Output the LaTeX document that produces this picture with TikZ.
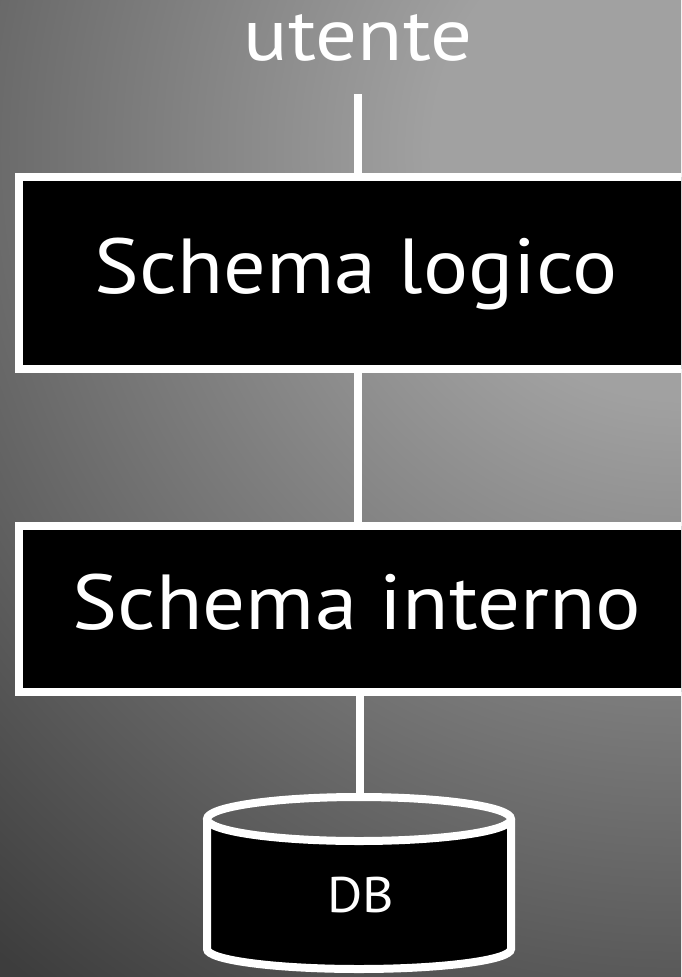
\documentclass[tikz,border=0pt]{standalone}
\usepackage{fontspec}
\setmainfont{PT Sans}
\definecolor{bghi}{gray}{0.63}
\definecolor{bglo}{gray}{0.24}
\pgfdeclareradialshading{bgshade}{\pgfpoint{0bp}{0bp}}{color(0bp)=(bghi); color(250bp)=(bghi); color(1050bp)=(bglo); color(1100bp)=(bglo)}
\tikzset{
  wline/.style={draw=white, line width=8pt},
  schemabox/.style={draw=white, line width=8pt, fill=black, rectangle, inner sep=0pt},
  bigtext/.style={text=white, inner sep=0pt, anchor=base, font=\fontsize{78}{80}\selectfont},
  toptext/.style={text=white, inner sep=0pt, anchor=base, font=\fontsize{74}{76}\selectfont},
  dbtext/.style={text=white, inner sep=0pt, anchor=base, font=\fontsize{50}{52}\selectfont},
}
\begin{document}
\begin{tikzpicture}[x=1pt,y=-1pt]
\useasboundingbox (0,0) rectangle (681,977);
\clip (0,0) rectangle (681,977);
% background
\node[inner sep=0pt] (bg) at (681,150) {\pgfuseshading{bgshade}};
% user label
\node[toptext] (utente) at (358,60) {\scalebox{1.12}[1]{utente}};
% boxes
\node[schemabox, minimum width=681pt, minimum height=192pt] (logico) at (359.5,273) {};
\node[bigtext] (logicotext) at (356,293) {\scalebox{1.08}[1]{Schema logico}};
\node[schemabox, minimum width=681pt, minimum height=166pt] (interno) at (359.5,609) {};
\node[bigtext] (internotext) at (357,629) {\scalebox{1.09}[1]{Schema interno}};
% database cylinder
\coordinate (dbtop) at (360,797);
\fill[black] (207,819) -- (207,949) arc[start angle=180, end angle=0, x radius=152, y radius=20]
  -- (511,819) arc[start angle=0, end angle=180, x radius=152, y radius=22] -- cycle;
\draw[wline] (359,819) ellipse[x radius=152, y radius=22];
\draw[wline] (207,819) -- (207,949) arc[start angle=180, end angle=0, x radius=152, y radius=20] -- (511,819);
\node[dbtext] (db) at (361,912) {\scalebox{1.08}[1]{DB}};
% connectors
\draw[wline] (358,94) -- (358,94 |- logico.north);
\draw[wline] (358,0 |- logico.south) -- (358,0 |- interno.north);
\draw[wline] (dbtop |- interno.south) -- (dbtop);
\end{tikzpicture}
\end{document}
